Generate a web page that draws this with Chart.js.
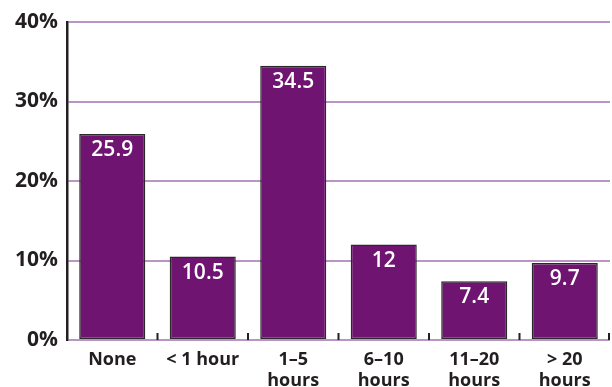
<!DOCTYPE html>
<html>
<head>
<meta charset="utf-8">
<script src="https://cdn.jsdelivr.net/npm/chart.js@4"></script>
<style>
  html, body { margin: 0; padding: 0; background: #fff; }
  #wrap { width: 612px; height: 387px; }
</style>
</head>
<body>
<div id="wrap"><canvas id="hoursChart"></canvas></div>
<script>
const categories = ['None', '< 1 hour', ['1\u20135', 'hours'], ['6\u201310', 'hours'], ['11\u201320', 'hours'], ['> 20', 'hours']];
const percents = [25.9, 10.5, 34.5, 12, 7.4, 9.7];
const valueLabels = ['25.9', '10.5', '34.5', '12', '7.4', '9.7'];
const yTicks = [0, 10, 20, 30, 40];

const FONT = '"Open Sans", sans-serif';

// white numbers inside the top of each bar
const barLabels = {
    id: 'barLabels',
    afterDatasetsDraw(chart) {
        const { ctx } = chart;
        const meta = chart.getDatasetMeta(0);
        ctx.save();
        ctx.fillStyle = '#ffffff';
        ctx.font = '600 21px ' + FONT;
        ctx.textAlign = 'center';
        ctx.textBaseline = 'middle';
        meta.data.forEach((bar, i) => {
            ctx.fillText(valueLabels[i], bar.x, bar.y + 16);
        });
        ctx.restore();
    }
};

// small tick marks between categories, pointing up from the baseline
const boundaryTicks = {
    id: 'boundaryTicks',
    afterDatasetsDraw(chart) {
        const { ctx, scales: { x }, chartArea } = chart;
        ctx.save();
        ctx.strokeStyle = '#231f20';
        ctx.lineWidth = 2;
        for (let i = 1; i <= categories.length; i++) {
            const px = i < categories.length
                ? (x.getPixelForTick(i - 1) + x.getPixelForTick(i)) / 2
                : chartArea.right - 1;
            ctx.beginPath();
            ctx.moveTo(px, chartArea.bottom);
            ctx.lineTo(px, chartArea.bottom - 7);
            ctx.stroke();
        }
        ctx.restore();
    }
};

new Chart(document.getElementById('hoursChart'), {
    type: 'bar',
    data: {
        labels: categories,
        datasets: [{
            data: percents,
            backgroundColor: '#6f1470',
            borderColor: '#2a2a2a',
            borderWidth: 1.5,
            borderSkipped: false,
            categoryPercentage: 1,
            barPercentage: 0.73
        }]
    },
    options: {
        responsive: true,
        maintainAspectRatio: false,
        animation: false,
        layout: { padding: { top: 22, right: 2, left: 4, bottom: 0 } },
        plugins: {
            legend: { display: false },
            tooltip: { enabled: false }
        },
        scales: {
            x: {
                grid: { display: false },
                border: { display: false },
                ticks: {
                    color: '#231f20',
                    font: { family: FONT, size: 18, weight: 'bold', lineHeight: 1.15 },
                    padding: 2,
                    maxRotation: 0,
                    autoSkip: false
                },
                afterFit(scale) { scale.height = 47; }
            },
            y: {
                min: 0,
                max: 40,
                afterBuildTicks(scale) { scale.ticks = yTicks.map(v => ({ value: v })); },
                grid: { color: '#b994c4', lineWidth: 2, drawTicks: false },
                border: { display: true, color: '#231f20', width: 2.5 },
                ticks: {
                    color: '#231f20',
                    font: { family: FONT, size: 21, weight: 'bold' },
                    padding: 9,
                    callback: v => v + '%'
                },
                afterFit(scale) { scale.width = 63; }
            }
        }
    },
    plugins: [barLabels, boundaryTicks]
});
</script>
</body>
</html>
